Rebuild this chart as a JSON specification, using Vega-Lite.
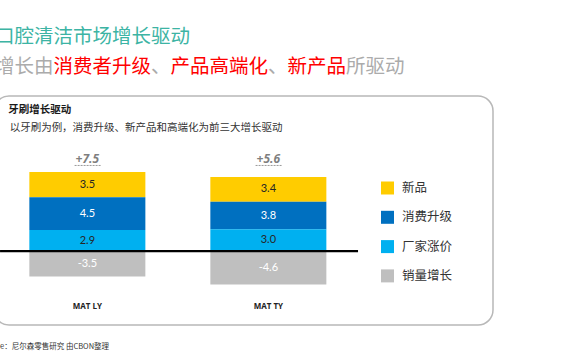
{
  "$schema": "https://vega.github.io/schema/vega-lite/v6.json",
  "width": 499,
  "height": 229,
  "autosize": {"type": "none"},
  "padding": {"left": -6, "top": 96, "right": 77, "bottom": 35},
  "background": "white",
  "config": {
    "view": {"fill": "white", "stroke": "#b8b8b8", "strokeWidth": 1.5, "cornerRadius": 15},
    "text": {"font": "Noto Sans CJK SC"},
    "locale": {"number": {"decimal": ".", "thousands": ",", "grouping": [3], "currency": ["$", ""], "minus": "-"}}
  },
  "datasets": {
    "drivers": [
      {"period": "MAT LY", "driver": "新品", "value": 3.5},
      {"period": "MAT LY", "driver": "消费升级", "value": 4.5},
      {"period": "MAT LY", "driver": "厂家涨价", "value": 2.9},
      {"period": "MAT LY", "driver": "销量增长", "value": -3.5},
      {"period": "MAT TY", "driver": "新品", "value": 3.4},
      {"period": "MAT TY", "driver": "消费升级", "value": 3.8},
      {"period": "MAT TY", "driver": "厂家涨价", "value": 3.0},
      {"period": "MAT TY", "driver": "销量增长", "value": -4.6}
    ],
    "totals": [
      {"period": "MAT LY", "total": 7.5},
      {"period": "MAT TY", "total": 5.6}
    ]
  },
  "layer": [
    {
      "data": {"name": "drivers"},
      "transform": [
        {"calculate": "indexof(['厂家涨价','消费升级','新品','销量增长'], datum.driver)", "as": "ord"},
        {"stack": "value", "groupby": ["period"], "sort": [{"field": "ord", "order": "ascending"}], "as": ["v0", "v1"], "offset": "zero"}
      ],
      "mark": {"type": "bar"},
      "encoding": {
        "x": {
          "field": "period", "type": "nominal",
          "scale": {"domain": ["MAT LY", "MAT TY"], "paddingInner": 0.359, "paddingOuter": 0.558, "align": 0.175, "round": false},
          "axis": {"orient": "bottom", "offset": -23, "domain": false, "ticks": false, "title": null, "labelFontSize": 8, "labelFontWeight": "bold", "labelColor": "#222222", "labelFont": "Open Sans", "labelPadding": 0, "labelAngle": 0}
        },
        "y": {"field": "v0", "type": "quantitative", "scale": {"domain": [-10.2, 21.38], "nice": false, "zero": false}, "axis": null},
        "y2": {"field": "v1"},
        "color": {
          "field": "driver", "type": "nominal",
          "scale": {"domain": ["新品", "消费升级", "厂家涨价", "销量增长"], "range": ["#FFCC00", "#0070C0", "#00B0F0", "#BFBFBF"]},
          "legend": {"orient": "none", "legendX": 387, "legendY": 85.5, "title": null, "symbolType": "square", "symbolSize": 169, "symbolStrokeWidth": 0, "labelFontSize": 12.5, "labelFont": "Noto Sans CJK SC", "labelColor": "#333333", "rowPadding": 16.3, "labelOffset": 8, "padding": 0}
        }
      }
    },
    {
      "data": {"name": "drivers"},
      "transform": [
        {"calculate": "indexof(['厂家涨价','消费升级','新品','销量增长'], datum.driver)", "as": "ord"},
        {"stack": "value", "groupby": ["period"], "sort": [{"field": "ord", "order": "ascending"}], "as": ["v0", "v1"], "offset": "zero"},
        {"calculate": "(datum.v0 + datum.v1) / 2", "as": "mid"}
      ],
      "mark": {"type": "text", "font": "Lato", "fontSize": 11, "baseline": "middle"},
      "encoding": {
        "x": {"field": "period", "type": "nominal"},
        "y": {"field": "mid", "type": "quantitative"},
        "text": {"field": "value", "type": "quantitative", "format": ".1f"},
        "color": {"condition": {"test": "datum.driver === '消费升级' || datum.driver === '销量增长'", "value": "#ffffff"}, "value": "#262626"}
      }
    },
    {
      "data": {"values": [{}]},
      "mark": {"type": "rule", "stroke": "#000000", "strokeWidth": 2.2},
      "encoding": {
        "x": {"datum": "MAT LY", "bandPosition": -0.2526},
        "x2": {"datum": "MAT TY", "bandPosition": 1.273},
        "y": {"datum": 0}
      }
    },
    {
      "data": {"name": "totals"},
      "mark": {"type": "text", "font": "Open Sans", "fontSize": 12, "fontStyle": "italic", "fontWeight": "bold", "color": "#7f7f7f", "baseline": "middle"},
      "encoding": {
        "x": {"field": "period", "type": "nominal"},
        "y": {"datum": 12.69},
        "text": {"field": "total", "type": "quantitative", "format": "+.1f"}
      }
    },
    {
      "data": {"name": "totals"},
      "mark": {"type": "rule", "stroke": "#9a9a9a", "strokeWidth": 1, "strokeDash": [2, 1]},
      "encoding": {
        "x": {"field": "period", "type": "nominal", "bandPosition": 0.39},
        "x2": {"field": "period", "bandPosition": 0.615},
        "y": {"datum": 11.8}
      }
    },
    {
      "data": {"values": [{"label": "口腔清洁市场增长驱动"}]},
      "mark": {"type": "text", "align": "left", "baseline": "middle", "fontSize": 19.5, "color": "#3CB4A4"},
      "encoding": {
        "x": {"datum": "MAT LY", "bandPosition": -0.2957},
        "y": {"datum": 29.45},
        "text": {"field": "label"}
      }
    },
    {
      "data": {"values": [{"label": "增长由"}]},
      "mark": {"type": "text", "align": "left", "baseline": "middle", "fontSize": 19.5, "color": "#ABABAB"},
      "encoding": {
        "x": {"datum": "MAT LY", "bandPosition": -0.2957},
        "y": {"datum": 25.37},
        "text": {"field": "label"}
      }
    },
    {
      "data": {"values": [{"label": "、"}]},
      "mark": {"type": "text", "align": "left", "baseline": "middle", "fontSize": 19.5, "color": "#ABABAB"},
      "encoding": {
        "x": {"datum": "MAT LY", "bandPosition": 1.0491},
        "y": {"datum": 25.37},
        "text": {"field": "label"}
      }
    },
    {
      "data": {"values": [{"label": "、"}]},
      "mark": {"type": "text", "align": "left", "baseline": "middle", "fontSize": 19.5, "color": "#ABABAB"},
      "encoding": {
        "x": {"datum": "MAT TY", "bandPosition": 0.497},
        "y": {"datum": 25.37},
        "text": {"field": "label"}
      }
    },
    {
      "data": {"values": [{"label": "所驱动"}]},
      "mark": {"type": "text", "align": "left", "baseline": "middle", "fontSize": 19.5, "color": "#ABABAB"},
      "encoding": {
        "x": {"datum": "MAT TY", "bandPosition": 1.1698},
        "y": {"datum": 25.37},
        "text": {"field": "label"}
      }
    },
    {
      "data": {"values": [{"label": "消费者升级\u3000产品高端化\u3000新产品"}]},
      "mark": {"type": "text", "align": "left", "baseline": "middle", "fontSize": 19.5, "color": "#FF0000"},
      "encoding": {
        "x": {"datum": "MAT LY", "bandPosition": 0.2086},
        "y": {"datum": 25.37},
        "text": {"field": "label"}
      }
    },
    {
      "data": {"values": [{"label": "牙刷增长驱动"}]},
      "mark": {"type": "text", "align": "left", "baseline": "middle", "fontSize": 10.5, "fontWeight": "bold", "color": "#1a1a1a"},
      "encoding": {
        "x": {"datum": "MAT LY", "bandPosition": -0.181},
        "y": {"datum": 19.44},
        "text": {"field": "label"}
      }
    },
    {
      "data": {"values": [{"label": "以牙刷为例，消费升级、新产品和高端化为前三大增长驱动"}]},
      "mark": {"type": "text", "align": "left", "baseline": "middle", "fontSize": 10.5, "color": "#333333"},
      "encoding": {
        "x": {"datum": "MAT LY", "bandPosition": -0.17},
        "y": {"datum": 16.96},
        "text": {"field": "label"}
      }
    },
    {
      "data": {"values": [{"label": "e：尼尔森零售研究 由CBON整理"}]},
      "mark": {"type": "text", "align": "left", "baseline": "middle", "fontSize": 7.5, "color": "#333333"},
      "encoding": {
        "x": {"datum": "MAT LY", "bandPosition": -0.2526},
        "y": {"datum": -13.24},
        "text": {"field": "label"}
      }
    }
  ]
}
